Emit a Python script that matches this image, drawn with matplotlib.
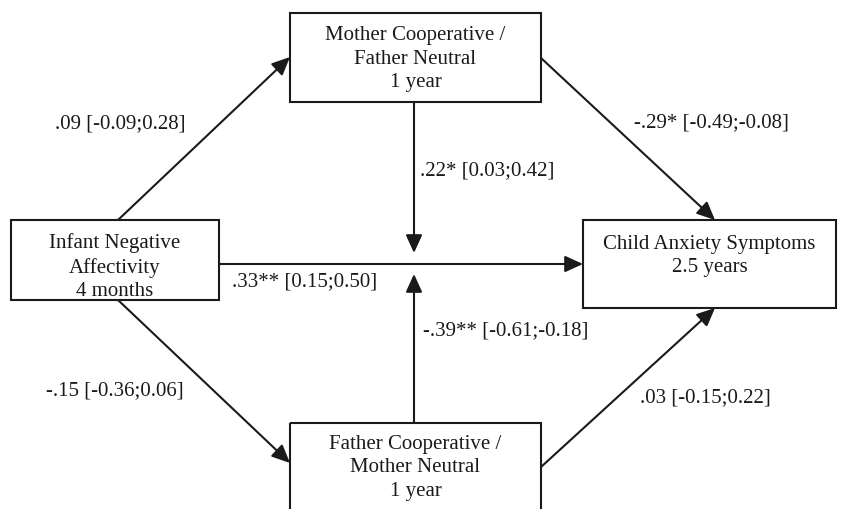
import matplotlib
matplotlib.use("Agg")
import matplotlib.pyplot as plt
from matplotlib.patches import Rectangle

plt.rcParams['font.family'] = ['Liberation Serif', 'DejaVu Serif']

# Node labels
node_names = ["Infant Negative\nAffectivity\n4 months",
              "Mother Cooperative /\nFather Neutral\n1 year",
              "Father Cooperative /\nMother Neutral\n1 year",
              "Child Anxiety Symptoms\n2.5 years"]
# Path coefficients
path_labels = [".09 [-0.09;0.28]", "-.29* [-0.49;-0.08]", ".22* [0.03;0.42]",
               ".33** [0.15;0.50]", "-.39** [-0.61;-0.18]", "-.15 [-0.36;0.06]",
               ".03 [-0.15;0.22]"]

W, H = 841, 509
fig = plt.figure(figsize=(W/100, H/100), dpi=100)
ax = fig.add_axes([0, 0, 1, 1])
ax.set_xlim(0, W)
ax.set_ylim(H, 0)
ax.axis('off')

# boxes: (x0, y0, x1, y1) and text centre y
boxes = [(11, 220, 219, 300), (290, 13, 541, 102), (290, 423, 541, 530), (583, 220, 836, 308)]
text_cy = [267, 59, 468, 256]
fs = 15
col = '#1a1a1a'
for (x0, y0, x1, y1), name, cy in zip(boxes, node_names, text_cy):
    ax.add_patch(Rectangle((x0, y0), x1 - x0, y1 - y0, fill=False, lw=1.5, ec=col))
    ax.text((x0 + x1) / 2, cy, name, ha='center', va='center',
            fontsize=fs, linespacing=1.3, color=col)

def arrow(p0, p1):
    ax.annotate("", xy=p1, xytext=p0,
                arrowprops=dict(arrowstyle="-|>,head_length=0.55,head_width=0.25",
                                color=col, lw=1.5,
                                mutation_scale=20, shrinkA=0, shrinkB=0))

arrow((118, 220), (290, 57))
arrow((541, 58), (715, 220))
arrow((219, 264), (583, 264))
arrow((414, 102), (414, 253))
arrow((414, 423), (414, 274))
arrow((118, 300), (290, 463))
arrow((541, 467), (715, 308))

label_pos = [(55, 124), (634, 123), (420, 171), (232, 282), (423, 331),
             (46, 391), (640, 398)]
for (x, y), t in zip(label_pos, path_labels):
    ax.text(x, y, t, ha='left', va='center', fontsize=fs, color=col)

fig.savefig("out.png", dpi=100)
